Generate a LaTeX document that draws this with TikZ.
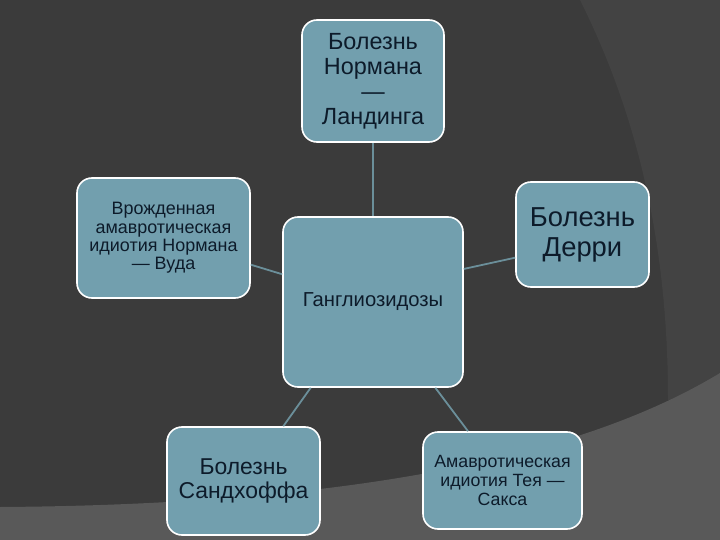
\documentclass[tikz,border=0pt]{standalone}
\usepackage{fontspec}
\setmainfont{Liberation Sans}
\definecolor{slidebg}{HTML}{3B3B3B}
\definecolor{slideband}{HTML}{434343}
\definecolor{slidefloor}{HTML}{595959}
\definecolor{boxfill}{HTML}{729FAE}
\definecolor{boxtext}{HTML}{0D1B2A}
\definecolor{linkcol}{HTML}{6B8F9A}
\tikzset{
    diseasebox/.style={draw=white,line width=1.6bp,fill=boxfill,rounded corners=15bp,
        text=boxtext,align=center,inner sep=0pt},
    link/.style={draw=linkcol,line width=1.8bp}
}
\newcommand\BoxFont[2]{\fontsize{#1}{#2}\selectfont}
\begin{document}
\begin{tikzpicture}[x=1bp,y=-1bp]
    % slide background
    \fill[slidebg] (0,0) rectangle (720,540);
    \fill[slideband] (580,0) .. controls (640,120) and (668,250) .. (668,400) -- (720,400) -- (720,0) -- cycle;
    \fill[slidefloor] (0,507) .. controls (300,505) and (560,470) .. (720,373) -- (720,540) -- (0,540) -- cycle;
    \useasboundingbox (0,0) rectangle (720,540);
    % boxes
    \node[diseasebox,minimum width=180bp,minimum height=170bp,font=\BoxFont{20.3}{23}] (centre) at (373,302)
        {Ганглиозидозы};
    \node[diseasebox,minimum width=142bp,minimum height=122bp,font=\BoxFont{23.5}{25}] (normanlanding) at (373,81)
        {Болезнь\\Нормана\\—\\Ландинга};
    \node[diseasebox,minimum width=173bp,minimum height=120bp,font=\BoxFont{18}{18.3}] (normanwood) at (163.5,238)
        {Врожденная\\амавротическая\\идиотия Нормана\\— Вуда};
    \node[diseasebox,minimum width=133bp,minimum height=105bp,font=\BoxFont{27.5}{30}] (derry) at (582.5,234.5)
        {Болезнь\\Дерри};
    \node[diseasebox,minimum width=153bp,minimum height=108bp,font=\BoxFont{23}{25}] (sandhoff) at (243.5,481)
        {Болезнь\\Сандхоффа};
    \node[diseasebox,minimum width=159bp,minimum height=97bp,font=\BoxFont{17.8}{19.5}] (taysachs) at (502.5,480.5)
        {Амавротическая\\идиотия Тея —\\Сакса};
    % connectors
    \draw[link] (normanlanding.south) -- (centre.north);
    \draw[link] (normanwood.-17) -- (centre.163);
    \draw[link] (centre.20) -- (derry.-161);
    \draw[link] (centre.-126) -- (sandhoff.54);
    \draw[link] (centre.-54) -- (taysachs.125);
\end{tikzpicture}
\end{document}
